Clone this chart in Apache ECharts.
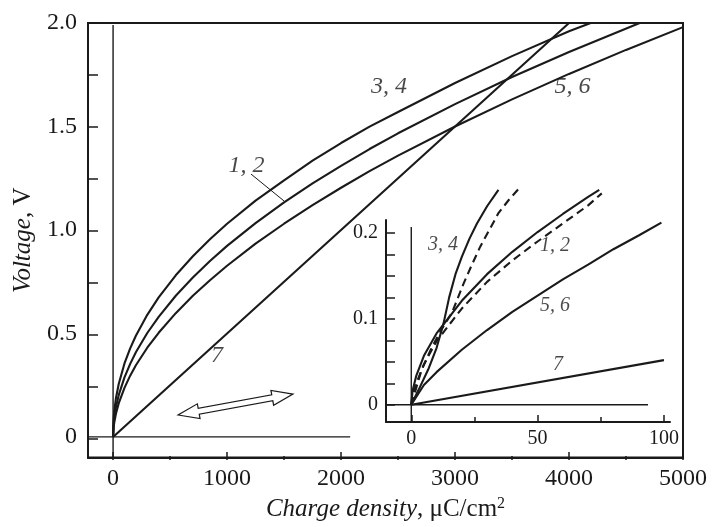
<!DOCTYPE html>
<html><head><meta charset="utf-8">
<script src="https://cdn.jsdelivr.net/npm/echarts@6/dist/echarts.min.js"></script>
<style>html,body{margin:0;padding:0;background:#fff}#c{width:714px;height:527px}</style>
</head><body><div id="c"></div>
<script>
// ---- main panel axes ----
const mainXMin = -220, mainXMax = 5000;
const mainYMin = -0.1, mainYMax = 2.0;
const mainXLabels = [0, 1000, 2000, 3000, 4000, 5000];
const mainXMinorTicks = [500, 1500, 2500, 3500, 4500];
const mainYTicks = [0, 0.25, 0.5, 0.75, 1.0, 1.25, 1.5, 1.75, 2.0];
const mainYLabels = [0, 0.5, 1.0, 1.5, 2.0];

// ---- main panel curves ----
const main34X = [0, 5, 10, 25, 50, 100, 150, 200, 300, 400, 550, 700, 850, 1000, 1250, 1500, 1750, 2000, 2250, 2500, 3000, 3500, 4000, 4190];
const main34Y = [0, 0.089, 0.122, 0.187, 0.257, 0.355, 0.428, 0.489, 0.590, 0.674, 0.781, 0.873, 0.955, 1.03, 1.142, 1.24, 1.335, 1.42, 1.499, 1.57, 1.71, 1.84, 1.96, 2.0];
const main12X = [0, 5, 10, 25, 50, 100, 150, 200, 300, 400, 550, 700, 850, 1000, 1250, 1500, 1750, 2000, 2250, 2500, 3000, 3500, 4000, 4620];
const main12Y = [0, 0.063, 0.090, 0.143, 0.203, 0.288, 0.353, 0.409, 0.502, 0.580, 0.682, 0.770, 0.850, 0.923, 1.033, 1.133, 1.225, 1.31, 1.391, 1.467, 1.608, 1.739, 1.86, 2.0];
const main56X = [0, 5, 10, 25, 50, 100, 150, 200, 300, 400, 550, 700, 850, 1000, 1250, 1500, 1750, 2000, 2250, 2500, 3000, 3500, 4000, 4500, 5000];
const main56Y = [0, 0.047, 0.068, 0.112, 0.163, 0.237, 0.296, 0.346, 0.431, 0.503, 0.598, 0.682, 0.757, 0.827, 0.934, 1.03, 1.120, 1.204, 1.284, 1.359, 1.50, 1.631, 1.754, 1.87, 1.98];
const main7X = [0, 1000, 2000, 3000, 4000];
const main7Y = [0, 0.5, 1.0, 1.5, 2.0];
const mainZeroHX = [-220, 2080], mainZeroHY = [0, 0];
const mainZeroVX = [0, 0], mainZeroVY = [-0.1, 1.99];

// main labels
const mainLabelText = ['3, 4', '5, 6', '1, 2', '7'];
const mainLabelX = [2420, 4030, 1170, 912];
const mainLabelY = [1.69, 1.69, 1.31, 0.394];
const leaderX = [1210, 1500], leaderY = [1.27, 1.14];
const arrowX = [570, 1578], arrowY = [0.106, 0.207];

// ---- inset axes ----
const inXMin = -10, inXMax = 102.4;
const inYMin = -0.02, inYMax = 0.215;
const inXLabels = [0, 50, 100];
const inXMinorTicks = [25, 75];
const inYTicks = [0, 0.025, 0.05, 0.075, 0.1, 0.125, 0.15, 0.175, 0.2];
const inYLabels = [0, 0.1, 0.2];

// ---- inset curves ----
const in12X = [0, 0.5, 2, 5, 10, 20, 30, 40, 50, 60, 70, 74.4];
const in12Y = [0, 0.016, 0.034, 0.057, 0.083, 0.121, 0.152, 0.178, 0.201, 0.222, 0.242, 0.25];
const in12dX = [0, 0.5, 2, 5, 10, 20, 30, 40, 50, 60, 70, 75.4];
const in12dY = [0, 0.011, 0.025, 0.047, 0.074, 0.112, 0.143, 0.168, 0.19, 0.211, 0.232, 0.246];
const in34X = [0, 3, 6.7, 10, 12.8, 15, 17.5, 20, 23, 26, 30, 34.5];
const in34Y = [0, 0.018, 0.041, 0.066, 0.095, 0.125, 0.152, 0.172, 0.193, 0.211, 0.231, 0.25];
const in34dX = [0, 2, 4, 8, 12, 16.1, 20.7, 24, 27.3, 31, 34.5, 38.5, 42.4];
const in34dY = [0, 0.02, 0.04, 0.066, 0.088, 0.107, 0.141, 0.163, 0.184, 0.204, 0.223, 0.238, 0.251];
const in56X = [0, 5, 10, 20, 30, 40, 50, 60, 70, 80, 90, 99];
const in56Y = [0, 0.023, 0.038, 0.064, 0.087, 0.108, 0.127, 0.146, 0.163, 0.181, 0.197, 0.212];
const in7X = [0, 100];
const in7Y = [0, 0.052];
const inZeroHX = [-10, 93.7], inZeroHY = [0, 0];
const inZeroVX = [0, 0], inZeroVY = [-0.02, 0.207];

const inLabelText = ['3, 4', '1, 2', '5, 6', '7'];
const inLabelX = [12.6, 56.9, 56.9, 58.1];
const inLabelY = [0.186, 0.185, 0.115, 0.0465];

// ---------------------------------------------
const FONT = 'Liberation Serif';
const INK = '#1a1a1a';
const zip = (xs, ys) => xs.map((x, i) => [x, ys[i]]);
const MAIN_RECT = { left: 88, top: 23, width: 595, height: 437 };
const INSET_RECT = { left: 386, top: 220, width: 284, height: 202 };

function curve(xs, ys, grid, opts) {
  opts = opts || {};
  return {
    type: 'line', xAxisIndex: grid, yAxisIndex: grid,
    data: zip(xs, ys), showSymbol: false, symbol: 'none', clip: false, smooth: false,
    silent: true, animation: false, z: opts.z || 3,
    lineStyle: { color: INK, width: opts.width || 2.1, type: opts.type || 'solid' }
  };
}
function labels(texts, xs, ys, grid, size) {
  return {
    type: 'scatter', xAxisIndex: grid, yAxisIndex: grid,
    symbolSize: 0, silent: true, animation: false, clip: false, z: 5,
    data: texts.map((t, i) => ({ value: [xs[i], ys[i]], name: t })),
    label: { show: true, position: 'inside', formatter: p => p.name,
      fontFamily: FONT, fontStyle: 'italic', fontSize: size, color: INK }
  };
}
// axis carrying line + labels (no ticks)
function labelAxis(grid, min, max, pos, labelsArr, size, margin, extra) {
  return Object.assign({
    gridIndex: grid, type: 'value', min: min, max: max, position: pos,
    axisLine: { show: true, onZero: false, lineStyle: { color: INK, width: 2 } },
    axisTick: { show: false },
    axisLabel: { customValues: labelsArr, fontFamily: FONT, fontSize: size, color: INK, margin: margin,
      formatter: v => (pos === 'left' ? (v === 0 ? '0' : v.toFixed(1)) : String(v)) },
    splitLine: { show: false }
  }, extra || {});
}
// axis carrying only ticks; it sits on the grid edge because the partner axis starts at 0
function tickAxis(grid, min, max, pos, ticks, len) {
  return {
    gridIndex: grid, type: 'value', min: min, max: max, position: pos,
    axisLine: { show: false, onZero: true },
    axisTick: { show: true, inside: true, length: len, customValues: ticks, lineStyle: { color: INK, width: 1.5 } },
    axisLabel: { show: false }, splitLine: { show: false }
  };
}
function hiddenAxis(grid, pos) {
  return { gridIndex: grid, type: 'value', min: 0, max: 1, position: pos, show: false };
}

// tick grids: [rect, axis kind, min, max, ticks, length]
const tickSpecs = [
  [MAIN_RECT, 'x', mainXMin, mainXMax, mainXLabels, 8],
  [MAIN_RECT, 'x', mainXMin, mainXMax, mainXMinorTicks, 4],
  [MAIN_RECT, 'y', mainYMin, mainYMax, mainYTicks, 10],
  [INSET_RECT, 'x', inXMin, inXMax, inXLabels, 7],
  [INSET_RECT, 'x', inXMin, inXMax, inXMinorTicks, 5],
  [INSET_RECT, 'y', inYMin, inYMax, inYTicks, 9]
];

const grids = [
  Object.assign({ show: true, borderColor: INK, borderWidth: 2, backgroundColor: 'transparent' }, MAIN_RECT),
  Object.assign({ show: false }, INSET_RECT)
];
const xAxes = [
  labelAxis(0, mainXMin, mainXMax, 'bottom', mainXLabels, 24, 9, {
    name: '{i|Charge density}{n|, μC/cm}{s|2}', nameLocation: 'middle', nameGap: 33,
    nameTextStyle: { rich: {
      i: { fontFamily: FONT, fontStyle: 'italic', fontSize: 25, color: INK, lineHeight: 28 },
      n: { fontFamily: FONT, fontSize: 25, color: INK, lineHeight: 28 },
      s: { fontFamily: FONT, fontSize: 16, color: INK, verticalAlign: 'top', lineHeight: 16 } } } }),
  labelAxis(1, inXMin, inXMax, 'bottom', inXLabels, 20, 7)
];
const yAxes = [
  labelAxis(0, mainYMin, mainYMax, 'left', mainYLabels, 24, 11, {
    name: '{i|Voltage}{n|, V}', nameLocation: 'middle', nameGap: 50, nameRotate: 90,
    nameTextStyle: { rich: {
      i: { fontFamily: FONT, fontStyle: 'italic', fontSize: 25, color: INK },
      n: { fontFamily: FONT, fontSize: 25, color: INK } } } }),
  labelAxis(1, inYMin, inYMax, 'left', inYLabels, 20, 8)
];
tickSpecs.forEach((t) => {
  const g = grids.length;
  grids.push(Object.assign({ show: false }, t[0]));
  if (t[1] === 'x') {
    xAxes.push(tickAxis(g, t[2], t[3], 'bottom', t[4], t[5]));
    yAxes.push(hiddenAxis(g, 'left'));
  } else {
    xAxes.push(hiddenAxis(g, 'bottom'));
    yAxes.push(tickAxis(g, t[2], t[3], 'left', t[4], t[5]));
  }
});

const chart = echarts.init(document.getElementById('c'), null, { renderer: 'canvas' });
chart.setOption({
  animation: false,
  backgroundColor: '#fff',
  grid: grids, xAxis: xAxes, yAxis: yAxes,
  series: [
    curve(mainZeroHX, mainZeroHY, 0, { width: 1.4, z: 2 }),
    curve(mainZeroVX, mainZeroVY, 0, { width: 1.4, z: 2 }),
    curve(main34X, main34Y, 0),
    curve(main12X, main12Y, 0),
    curve(main56X, main56Y, 0),
    curve(main7X, main7Y, 0),
    curve(leaderX, leaderY, 0, { width: 1 }),
    labels(mainLabelText, mainLabelX, mainLabelY, 0, 24),
    curve(inZeroHX, inZeroHY, 1, { width: 1.4, z: 2 }),
    curve(inZeroVX, inZeroVY, 1, { width: 1.4, z: 2 }),
    curve(in12X, in12Y, 1),
    curve(in12dX, in12dY, 1, { type: [8, 5] }),
    curve(in34X, in34Y, 1),
    curve(in34dX, in34dY, 1, { type: [8, 5] }),
    curve(in56X, in56Y, 1),
    curve(in7X, in7Y, 1),
    labels(inLabelText, inLabelX, inLabelY, 1, 20)
  ]
});

// hollow double-headed arrow, anchored in data coordinates
const p1 = chart.convertToPixel({ gridIndex: 0 }, [arrowX[0], arrowY[0]]);
const p2 = chart.convertToPixel({ gridIndex: 0 }, [arrowX[1], arrowY[1]]);
const dx = p2[0] - p1[0], dy = p2[1] - p1[1], L = Math.hypot(dx, dy);
const ux = dx / L, uy = dy / L, nx = -uy, ny = ux;
const h = 21, w = 7.5, s = 3;
const P = (b, a, o) => [b[0] + ux * a + nx * o, b[1] + uy * a + ny * o];
const pts = [p1, P(p1, h, w), P(p1, h, s), P(p2, -h, s), P(p2, -h, w), p2,
             P(p2, -h, -w), P(p2, -h, -s), P(p1, h, -s), P(p1, h, -w)];
chart.setOption({ graphic: [{ type: 'polygon', shape: { points: pts },
  style: { fill: '#fff', stroke: INK, lineWidth: 1.2 }, z: 10 }] });
</script>
</body></html>
